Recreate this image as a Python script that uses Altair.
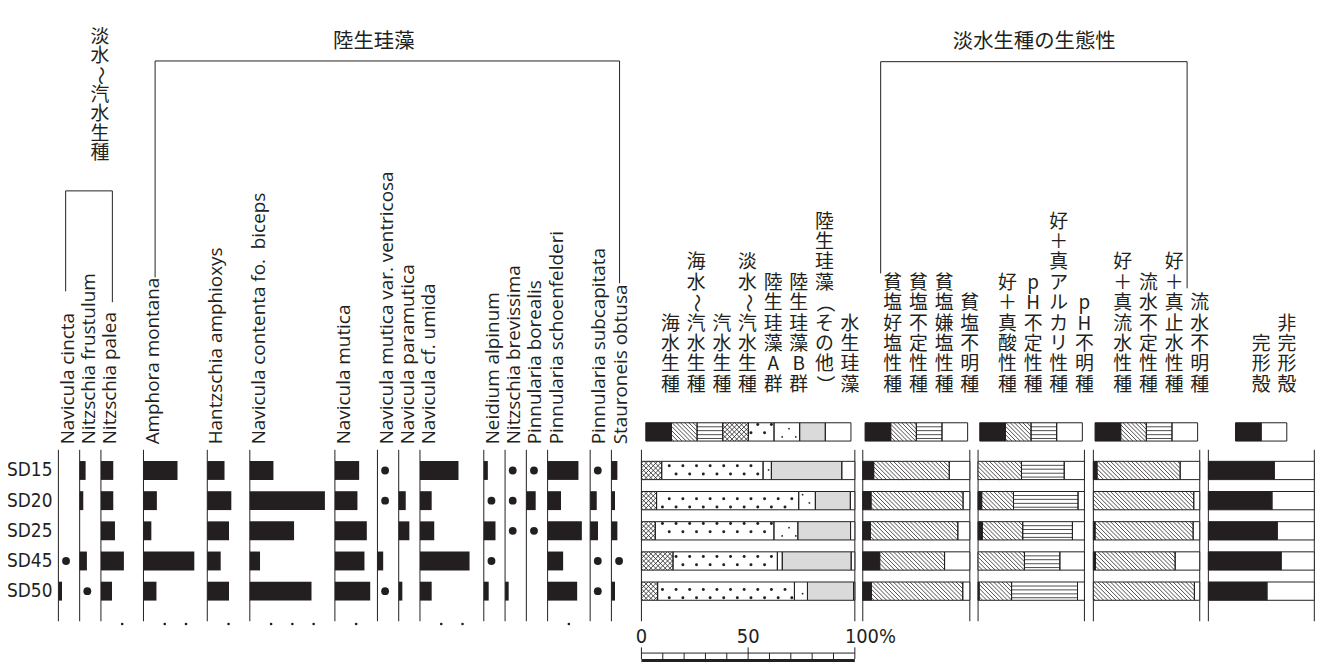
import altair as alt
import numpy as np
import pandas as pd

# ------------------------------------------------------------------ data
SAMPLES = ["SD15", "SD20", "SD25", "SD45", "SD50"]
RARE = "+"   # present, less than 1 %

SPECIES = [
    "Navicula cincta", "Nitzschia frustulum", "Nitzschia palea",
    "Amphora montana", "Hantzschia amphioxys", "Navicula contenta fo.\u00a0 biceps",
    "Navicula mutica", "Navicula mutica var. ventricosa", "Navicula paramutica",
    "Navicula cf. umida", "Neidium alpinum", "Nitzschia brevissima",
    "Pinnularia borealis", "Pinnularia schoenfelderi", "Pinnularia subcapitata",
    "Stauroneis obtusa",
]
# percentage of each species (same order as SPECIES)
SD15 = [0, 2.8, 5.8, 16.0, 8.1, 11.1, 11.4, RARE, 0, 18.1, 1.9, RARE, RARE, 14.5, RARE, 2.8]
SD20 = [0, 1.7, 5.8, 6.3, 11.3, 35.3, 10.6, RARE, 3.3, 5.5, RARE, RARE, 4.4, 6.3, 3.1, 1.7]
SD25 = [0, 0, 6.6, 3.7, 10.2, 20.8, 15.0, 0, 5.0, 6.7, 5.5, RARE, RARE, 16.1, 3.7, 2.8]
SD45 = [RARE, 3.4, 10.8, 23.9, 6.3, 4.8, 13.9, 2.7, 0, 23.3, RARE, 0, 0, 7.3, RARE, RARE]
SD50 = [1.7, RARE, 5.2, 6.1, 10.2, 29.0, 16.6, RARE, 1.7, 5.5, 2.3, 1.7, 0, 13.9, RARE, 1.7]
SAMPLE_VALUES = [SD15, SD20, SD25, SD45, SD50]

# ecological groups (rows = samples, columns = categories, %)
G1_LABELS = ["海水生種", "海水〜汽水生種", "汽水生種", "淡水〜汽水生種",
             "陸生珪藻A群", "陸生珪藻B群", "陸生珪藻（その他）", "水生珪藻"]
G1_VALUES = [
    [0, 0, 0, 9.5, 47.5, 3.9, 33.0, 6.1],
    [0, 0, 0, 7.1, 66.6, 7.8, 16.4, 2.1],
    [0, 0, 0, 6.5, 55.6, 11.2, 24.7, 2.0],
    [0, 0, 0, 14.8, 48.9, 2.3, 32.3, 1.7],
    [0, 0, 0, 7.6, 64.1, 6.1, 21.6, 0.6],
]
G2_LABELS = ["貧塩好塩性種", "貧塩不定性種", "貧塩嫌塩性種", "貧塩不明種"]
G2_VALUES = [
    [10.2, 70.6, 0, 19.2],
    [7.7, 86.0, 0, 6.3],
    [7.1, 81.7, 0, 11.2],
    [15.8, 60.6, 0, 23.6],
    [8.0, 85.4, 0, 6.6],
]
G3_LABELS = ["好＋真酸性種", "pH不定性種", "好＋真アルカリ性種", "pH不明種"]
G3_VALUES = [
    [0, 40.8, 40.2, 19.0],
    [3.4, 29.9, 60.7, 6.0],
    [4.0, 38.0, 46.7, 11.3],
    [0, 43.6, 33.3, 23.1],
    [1.0, 30.5, 62.0, 6.5],
]
G4_LABELS = ["好＋真流水性種", "流水不定性種", "好＋真止水性種", "流水不明種"]
G4_VALUES = [
    [3.4, 78.2, 0, 18.4],
    [0, 94.4, 0, 5.6],
    [1.6, 92.2, 0, 6.2],
    [1.9, 75.0, 0, 23.1],
    [0, 95.0, 0, 5.0],
]
G5_LABELS = ["完形殻", "非完形殻"]
G5_VALUES = [[62.2, 37.8], [60.0, 40.0], [65.0, 35.0], [68.7, 31.3], [55.3, 44.7]]

# ------------------------------------------------------------------ layout / style
INK = "#231f20"
JP = "Noto Sans CJK JP"
LAT = "Open Sans"
NARROW = "Liberation Sans Narrow, Arial Narrow, DejaVu Sans Condensed, sans-serif"
ROTATED = set("〜（）")   # glyphs turned for vertical writing

COL_POS = [0, 10, 20, 40, 70, 90, 130, 150, 160, 170, 200, 210, 220, 230, 250, 260]
ROW_C = [471.3 + 30.35 * i for i in range(5)]
BAR_H = 19.0
SEG_H = 18.4
LEG_C = 432.5
AX_TOP, AX_BOT = 450.5, 623.0

W, H = 1318, 656
YS = alt.Scale(domain=[8, 8 + H], range=[0, H], nice=False, zero=False)
PXS = alt.Scale(domain=[8, 8 + W], range=[0, W], nice=False, zero=False)
SP_ORIGIN, SP_K = 58.7, 2.14
SPS = alt.Scale(domain=[0, 100], range=[SP_ORIGIN - 8, SP_ORIGIN - 8 + 100 * SP_K], nice=False, zero=False)

GROUPS = [
    dict(labels=G1_LABELS, values=G1_VALUES, origin=645.3, span=214.7, leg=649.7, lab_dx=12.0,
         kinds=["black", "diag", "hlines", "cross", "bigdots", "smalldots", "stipple", "white"]),
    dict(labels=G2_LABELS, values=G2_VALUES, origin=868.0, span=107.7, leg=870.3, lab_dx=15.0,
         kinds=["black", "diag", "hlines", "white"]),
    dict(labels=G3_LABELS, values=G3_VALUES, origin=984.0, span=107.0, leg=985.7, lab_dx=15.0,
         kinds=["black", "diag", "hlines", "white"]),
    dict(labels=G4_LABELS, values=G4_VALUES, origin=1100.0, span=107.0, leg=1101.7, lab_dx=15.0,
         kinds=["black", "diag", "hlines", "white"]),
    dict(labels=G5_LABELS, values=G5_VALUES, origin=1215.7, span=106.6, leg=1243.0, lab_dx=13.0,
         kinds=["black", "white"]),
]
CELL_W = 25.8
FILLS = {"black": INK, "stipple": "#dadada"}
JP_LH = 20.5
LAB_BOTTOM = 385.0   # centre of the last character of the vertical labels


def xq(field, scale):
    return alt.X(f"{field}:Q", scale=scale, axis=None)


def yq(field="y"):
    return alt.Y(f"{field}:Q", scale=YS, axis=None)


def vertical_chars(text, x, y_last, lh):
    n = len(text)
    return [dict(x=x, y=y_last - (n - 1 - i) * lh, t=ch, rot=ch in ROTATED) for i, ch in enumerate(text)]


def vtext_layers(rows, scale, size):
    df = pd.DataFrame(rows)
    out = []
    up = df[~df["rot"]]
    rt = df[df["rot"]]
    out.append(alt.Chart(up).mark_text(font=JP, fontSize=size, align="center", baseline="middle",
                                       color=INK).encode(x=xq("x", scale), y=yq(), text="t:N"))
    if len(rt):
        out.append(alt.Chart(rt).mark_text(font=JP, fontSize=size, align="center", baseline="middle",
                                           angle=90, color=INK).encode(x=xq("x", scale), y=yq(), text="t:N"))
    return out


def patterns(kind, X0, X1, Y0, Y1):
    rules, pts = [], []
    h = Y1 - Y0
    if kind in ("diag", "cross"):
        s = 4.2 if kind == "diag" else 4.8
        c = np.floor((X0 - h) / s) * s
        while c < X1:
            xs, xe = max(c, X0), min(c + h, X1)
            if xe - xs > 0.3:
                rules.append((xs, Y0 + (xs - c), xe, Y0 + (xe - c)))
            c += s
        if kind == "cross":
            c = np.floor((X0 - h) / s) * s
            while c < X1:
                xs, xe = max(c, X0), min(c + h, X1)
                if xe - xs > 0.3:
                    rules.append((xs, Y1 - (xs - c), xe, Y1 - (xe - c)))
                c += s
    elif kind == "hlines":
        for f in (0.22, 0.43, 0.65, 0.86):
            rules.append((X0, Y0 + h * f, X1, Y0 + h * f))
    elif kind in ("bigdots", "smalldots"):
        big = kind == "bigdots"
        sx, sy = 13.7, 8.3
        base_y = 466.6 if big else 470.7
        phase = 2.0 if big else 6.0
        for j in range(int(np.floor((Y0 - base_y) / sy)) - 1, int(np.ceil((Y1 - base_y) / sy)) + 2):
            yy = base_y + sy * j
            if not (Y0 + 1.3 <= yy <= Y1 - 1.3):
                continue
            off = phase + (sx / 2) * (j % 2)
            for i in range(int(np.floor((X0 - off) / sx)) - 1, int(np.ceil((X1 - off) / sx)) + 2):
                xx = off + sx * i
                if X0 + 1.6 <= xx <= X1 - 1.6:
                    pts.append((xx, yy, 9 if big else 3))
    return rules, pts


layers = []

# ------------------------------------------------------------------ species panel
bars, dots, ticks = [], [], []
for si in range(len(SPECIES)):
    nums = []
    for ri, vals in enumerate(SAMPLE_VALUES):
        v = vals[si]
        if v == RARE:
            dots.append(dict(x=COL_POS[si] + 3.6, y=ROW_C[ri]))
        elif v > 0:
            nums.append(v)
            bars.append(dict(x=COL_POS[si], x2=COL_POS[si] + v,
                             y=ROW_C[ri] - BAR_H / 2, y2=ROW_C[ri] + BAR_H / 2))
    vmax = max(nums) if nums else 0
    k = 1
    while 10 * k < vmax:
        ticks.append(dict(x=COL_POS[si] + 10 * k, y=625.7))
        k += 1

base_df = pd.DataFrame(dict(x=COL_POS, y=AX_TOP, y2=AX_BOT))
lab_df = pd.DataFrame(dict(x=[p + 4.3 for p in COL_POS], y=445.0, t=SPECIES))

layers.append(alt.Chart(base_df).mark_rule(color=INK, strokeWidth=1).encode(
    x=xq("x", SPS), y=yq(), y2="y2"))
layers.append(alt.Chart(pd.DataFrame(bars)).mark_rect(color=INK).encode(
    x=xq("x", SPS), x2="x2", y=yq(), y2="y2"))
layers.append(alt.Chart(pd.DataFrame(dots)).mark_circle(color=INK, opacity=1, size=62).encode(
    x=xq("x", SPS), y=yq()))
layers.append(alt.Chart(pd.DataFrame(ticks)).mark_circle(color=INK, opacity=1, size=7).encode(
    x=xq("x", SPS), y=yq()))
layers.append(alt.Chart(lab_df).mark_text(
    angle=270, align="left", baseline="middle", font=LAT, fontSize=19, color=INK).encode(
    x=xq("x", SPS), y=yq(), text="t:N"))

# ------------------------------------------------------------------ ecological group panels
for gi, g in enumerate(GROUPS):
    k = g["span"] / 100.0
    scale = alt.Scale(domain=[0, 100], range=[g["origin"] - 8, g["origin"] - 8 + g["span"]],
                      nice=False, zero=False)
    segs = []
    for ri, row in enumerate(g["values"]):
        cum = 0.0
        for ci, v in enumerate(row):
            if v > 0:
                segs.append((g["kinds"][ci], cum, cum + v, ROW_C[ri] - SEG_H / 2, ROW_C[ri] + SEG_H / 2))
            cum += v
    leg0 = (g["leg"] - g["origin"]) / k
    cw = CELL_W / k
    for ci, kind in enumerate(g["kinds"]):
        segs.append((kind, leg0 + ci * cw, leg0 + (ci + 1) * cw, LEG_C - SEG_H / 2, LEG_C + SEG_H / 2))

    rect_rows, rule_rows, pt_rows = [], [], []
    for kind, a, b, y0, y1 in segs:
        rect_rows.append(dict(x=a, x2=b, y=y0, y2=y1, f=FILLS.get(kind, "white")))
        X0, X1 = g["origin"] + a * k, g["origin"] + b * k
        rr, pp = patterns(kind, X0, X1, y0, y1)
        for (xa, ya, xb, yb) in rr:
            rule_rows.append(dict(x=(xa - g["origin"]) / k, x2=(xb - g["origin"]) / k, y=ya, y2=yb))
        for (xa, ya, sz) in pp:
            pt_rows.append(dict(x=(xa - g["origin"]) / k, y=ya, s=sz))
    rect_df = pd.DataFrame(rect_rows)

    layers.append(alt.Chart(pd.DataFrame(dict(x=[0, 100], y=AX_TOP, y2=AX_BOT))).mark_rule(
        color=INK, strokeWidth=1).encode(x=xq("x", scale), y=yq(), y2="y2"))
    layers.append(alt.Chart(rect_df).mark_rect(strokeWidth=0).encode(
        x=xq("x", scale), x2="x2", y=yq(), y2="y2",
        fill=alt.Fill("f:N", scale=None)))
    if rule_rows:
        layers.append(alt.Chart(pd.DataFrame(rule_rows)).mark_rule(color=INK, strokeWidth=0.8).encode(
            x=xq("x", scale), x2="x2", y=yq(), y2="y2"))
    if pt_rows:
        layers.append(alt.Chart(pd.DataFrame(pt_rows)).mark_circle(color=INK, opacity=1).encode(
            x=xq("x", scale), y=yq(), size=alt.Size("s:Q", scale=None)))
    layers.append(alt.Chart(rect_df).mark_rect(fillOpacity=0, stroke=INK, strokeWidth=1).encode(
        x=xq("x", scale), x2="x2", y=yq(), y2="y2"))

    char_rows = []
    for ci, lab in enumerate(g["labels"]):
        px = g["leg"] + (ci + 0.5) * CELL_W + g["lab_dx"]
        char_rows += vertical_chars(lab, (px - g["origin"]) / k, LAB_BOTTOM, JP_LH)
    layers += vtext_layers(char_rows, scale, 19)

    if gi == 0:
        # percentage scale under the first panel
        tk = [dict(x=v, y=(649.3 if v % 50 == 0 else 655.0), y2=661.0) for v in range(0, 101, 10)]
        layers.append(alt.Chart(pd.DataFrame(tk)).mark_rule(color=INK, strokeWidth=1).encode(
            x=xq("x", scale), y=yq(), y2="y2"))
        layers.append(alt.Chart(pd.DataFrame([dict(x=0, x2=100, y=655.0, y2=655.0)])).mark_rule(
            color=INK, strokeWidth=1).encode(x=xq("x", scale), x2="x2", y=yq(), y2="y2"))
        layers.append(alt.Chart(pd.DataFrame([dict(x=0, x2=100, y=661.0, y2=664.0)])).mark_rect(
            color=INK).encode(x=xq("x", scale), x2="x2", y=yq(), y2="y2"))
        layers.append(alt.Chart(pd.DataFrame(dict(x=[0, 50], y=639.0, t=["0", "50"]))).mark_text(
            font=NARROW, fontSize=20, align="center", baseline="middle", color=INK).encode(
            x=xq("x", scale), y=yq(), text="t:N"))
        layers.append(alt.Chart(pd.DataFrame(dict(x=[100], y=639.0, t=["100%"]))).mark_text(
            font=NARROW, fontSize=20, align="left", baseline="middle", dx=-10, color=INK).encode(
            x=xq("x", scale), y=yq(), text="t:N"))

# ------------------------------------------------------------------ row labels, headers, brackets
layers.append(alt.Chart(pd.DataFrame(dict(x=7.0, y=ROW_C, t=SAMPLES))).mark_text(
    font=NARROW, fontSize=19, align="left", baseline="middle", color=INK).encode(
    x=xq("x", PXS), y=yq(), text="t:N"))

hdr = pd.DataFrame(dict(x=[376.0, 1040.5], y=[40.5, 40.5], t=["陸生珪藻", "淡水生種の生態性"]))
layers.append(alt.Chart(hdr).mark_text(font=JP, fontSize=20.5, align="center", baseline="middle",
                                       color=INK).encode(x=xq("x", PXS), y=yq(), text="t:N"))
layers += vtext_layers(vertical_chars("淡水〜汽水生種", 100.5, 152.0, 19.5), PXS, 19)

brackets = [
    # (x, x2, y, y2)
    (66.0, 66.0, 190.0, 291.0), (113.0, 113.0, 190.0, 302.0), (66.0, 113.0, 190.0, 190.0),
    (156.0, 156.0, 59.3, 277.0), (623.3, 623.3, 59.3, 283.0), (156.0, 623.3, 59.3, 59.3),
    (886.0, 886.0, 60.0, 273.0), (1194.3, 1194.3, 60.0, 288.0), (886.0, 1194.3, 60.0, 60.0),
]
br_df = pd.DataFrame(brackets, columns=["x", "x2", "y", "y2"])
layers.append(alt.Chart(br_df).mark_rule(color=INK, strokeWidth=1).encode(
    x=xq("x", PXS), x2="x2", y=yq(), y2="y2"))

chart = alt.layer(*layers).resolve_scale(x="independent").properties(
    width=W, height=H, padding=0, autosize=alt.AutoSizeParams(type="none")
).configure_view(stroke=None)

chart.save("out.html", embed_options={"renderer": "svg", "actions": False})
